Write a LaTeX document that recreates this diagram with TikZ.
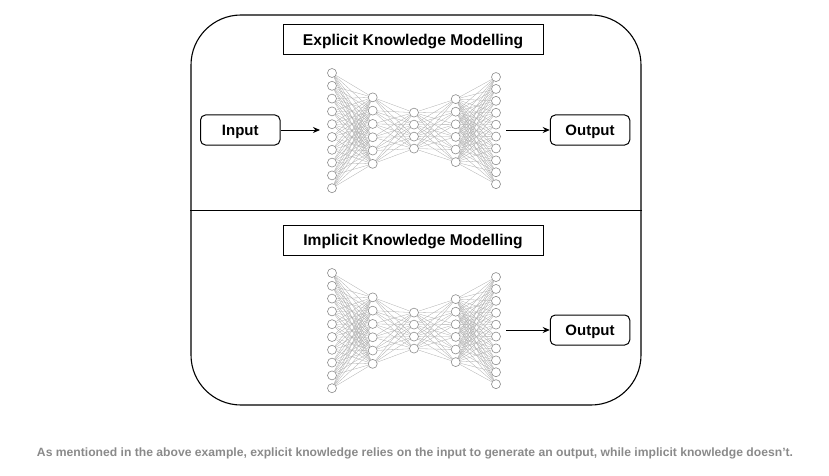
\documentclass[tikz,border=0pt]{standalone}
\usepackage{fontspec}
\usepackage{graphicx}
\setmainfont{Liberation Sans}
\usetikzlibrary{arrows.meta,backgrounds}
\definecolor{capgray}{HTML}{8A8A8A}
\definecolor{nodegray}{HTML}{8C8C8C}
\definecolor{edgegray}{HTML}{ADADAD}
\begin{document}
\begin{tikzpicture}[x=1pt,y=-1pt,
  neuron/.style={circle, draw=nodegray, fill=white, line width=0.6pt, minimum size=9pt, inner sep=0pt},
  synapse/.style={draw=edgegray, line width=0.3pt},
  titlebox/.style={draw, line width=1pt, minimum width=260pt, minimum height=30pt, inner sep=0pt, text height=11pt, text depth=0pt, font=\bfseries\fontsize{15.6}{18}\selectfont},
  iobox/.style={draw, rounded corners=5pt, line width=1pt, minimum width=79.5pt, minimum height=30pt, inner sep=0pt, text height=10.7pt, text depth=0pt, font=\bfseries\fontsize{15}{18}\selectfont},
  frame/.style={draw, line width=1.1pt, rounded corners=50pt, minimum width=450pt, minimum height=390pt, inner sep=0pt},
  flow/.style={-{Stealth[length=7pt,width=6pt]}, line width=1pt}]
\useasboundingbox (0,0) rectangle (829,476);

% outer frame and divider
\node[frame] (frame) at (416,210) {};
\draw[line width=1pt] (frame.west) -- (frame.east);

% titles
\node[titlebox] (t1) at (413,40) {Explicit Knowledge Modelling};
\node[titlebox] (t2) at (413,240) {Implicit Knowledge Modelling};

% neurons
\foreach \net/\cy in {a/130.6, b/330.6} {
  \foreach \l/\x/\n/\s in {1/332/10/12.8, 2/372.7/6/13.3, 3/414/4/12, 4/455.7/6/12.6, 5/496/10/11.9} {
    \foreach \i in {1,...,\n} {
      \node[neuron] (\net-\l-\i) at (\x, {\cy + (\i - (\n+1)/2)*\s}) {};
    }
  }
}

% synapses
\begin{scope}[on background layer]
\foreach \net in {a,b} {
  \foreach \l/\k/\n/\m in {1/2/10/6, 2/3/6/4, 3/4/4/6, 4/5/6/10} {
    \foreach \i in {1,...,\n} {
      \foreach \j in {1,...,\m} {
        \draw[synapse] (\net-\l-\i) -- (\net-\k-\j);
      }
    }
  }
}
\end{scope}

% input / output
\node[iobox] (in) at (240.25,130) {Input};
\node[iobox] (out1) at (590,130) {Output};
\node[iobox] (out2) at (590,330) {Output};
\coordinate (inEnd) at (320,130);
\coordinate (outA) at (506,130);
\coordinate (outB) at (506,330);
\draw[flow] (in) -- (inEnd);
\draw[flow] (outA) -- (out1);
\draw[flow] (outB) -- (out2);

% caption
\node[text=capgray, font=\bfseries\fontsize{12}{14}\selectfont, inner sep=0pt] (cap) at (415,453.5)
  {\resizebox{756pt}{\height}{As mentioned in the above example, explicit knowledge relies on the input to generate an output, while implicit knowledge doesn’t.}};
\end{tikzpicture}
\end{document}
